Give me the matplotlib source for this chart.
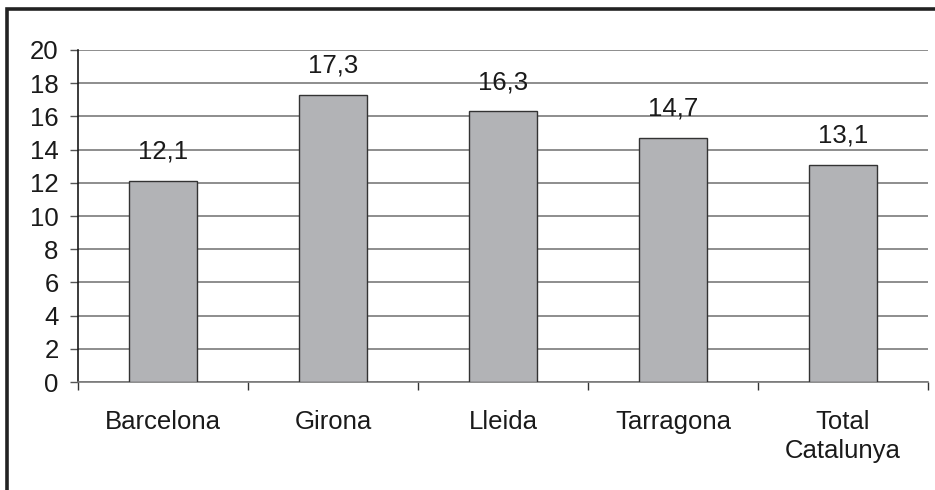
import matplotlib
matplotlib.use("Agg")
import matplotlib.pyplot as plt
from matplotlib.patches import Rectangle
import numpy as np

plt.rcParams['font.family'] = ['Liberation Sans', 'DejaVu Sans']

categories = ["Barcelona", "Girona", "Lleida", "Tarragona", "Total\nCatalunya"]
values = [12.1, 17.3, 16.3, 14.7, 13.1]
value_labels = ["12,1", "17,3", "16,3", "14,7", "13,1"]
yticks = list(range(0, 21, 2))

W, H = 935, 490
FS = 18.5
fig = plt.figure(figsize=(W / 100, H / 100), dpi=100)
ax = fig.add_axes([78 / W, 1 - 382 / H, 850 / W, 332 / H])

x = np.arange(len(categories))
ax.bar(x, values, width=0.4, color="#b2b3b6", edgecolor="#333333", linewidth=1.0, zorder=3)

for xi, v, lab in zip(x, values, value_labels):
    ax.annotate(lab, (xi, v), xytext=(0, 12.5), textcoords="offset points",
                ha="center", va="bottom", fontsize=FS, color="#1a1a1a")

ax.set_xlim(-0.5, len(categories) - 0.5)
ax.set_ylim(0, 20)
ax.set_yticks(yticks)
ax.set_yticklabels([str(t) for t in yticks], fontsize=FS, color="#1a1a1a")
ax.yaxis.grid(True, color="#7a7a7a", linewidth=1.2, zorder=0)
ax.set_axisbelow(True)

# category boundary ticks on the x axis
ax.set_xticks(np.arange(-0.5, len(categories), 1.0))
ax.set_xticklabels([])
ax.set_xticks(x, minor=True)
ax.set_xticklabels(categories, minor=True, fontsize=FS, color="#1a1a1a", linespacing=1.3)
ax.tick_params(axis="x", which="minor", length=0, pad=20)
ax.tick_params(axis="x", which="major", length=6, width=1, color="#333333", direction="out")
ax.tick_params(axis="y", length=6, width=1, color="#555555", pad=8)

for s in ["top", "right"]:
    ax.spines[s].set_visible(False)
ax.spines["left"].set_color("#1a1a1a")
ax.spines["left"].set_linewidth(1.2)
ax.spines["bottom"].set_color("#7a7a7a")
ax.spines["bottom"].set_linewidth(1.2)

# outer frame (cropped on right and bottom)
fig.patches.append(Rectangle((6.5 / W, -0.2), 1.2, 1.2 - 9.5 / H, transform=fig.transFigure,
                             fill=False, edgecolor="#222222", linewidth=2.6, clip_on=False))

fig.savefig("out.png", dpi=100)
